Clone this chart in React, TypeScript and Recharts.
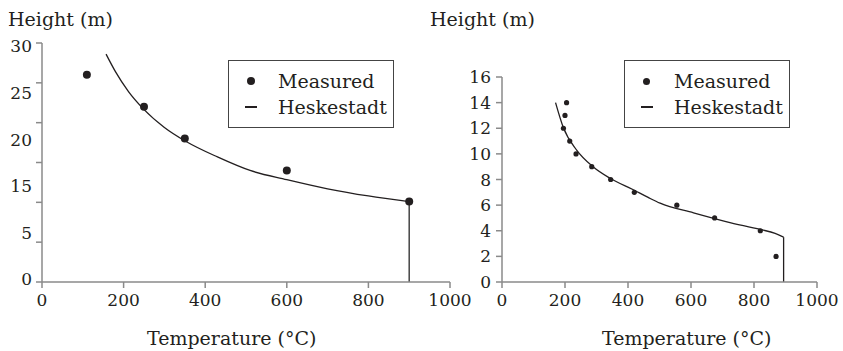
import { ComposedChart, Legend, Line, Scatter, XAxis, YAxis } from 'recharts'

const FONT = '"DejaVu Serif", serif'
const INK = '#231f20'
const AXIS = '#8a8a8a'

// left panel
const LEFT_MEASURED_T = [110, 250, 350, 600, 900]
const LEFT_MEASURED_H = [26, 22, 18, 14, 10.1]
const LEFT_MODEL_T = [157, 180, 212, 249, 300, 351, 430, 510, 600, 700, 800, 900]
const LEFT_MODEL_H = [28.6, 26.4, 23.9, 21.7, 19.4, 17.7, 15.7, 14.0, 12.85, 11.7, 10.8, 10.1]
const LEFT_DROP_T = [900, 900]
const LEFT_DROP_H = [10.1, 0]
const LEFT_X_TICKS = [0, 200, 400, 600, 800, 1000]
const LEFT_Y_MAX = 30
const LEFT_Y_MARKS = [0, 5, 10, 15, 20, 25, 30]
// the printed labels do not sit on the tick marks in the original figure
const LEFT_Y_LABELS = ['0', '5', '15', '20', '25', '30']
const LEFT_Y_LABEL_AT = [0.4, 6.2, 12.1, 17.9, 23.8, 29.6]

// right panel
const RIGHT_MEASURED_T = [205, 200, 195, 215, 235, 285, 345, 420, 555, 675, 820, 870]
const RIGHT_MEASURED_H = [14, 13, 12, 11, 10, 9, 8, 7, 6, 5, 4, 2]
const RIGHT_MODEL_T = [170, 194, 237, 289, 343, 417, 464, 502, 608, 714, 820, 867, 894]
const RIGHT_MODEL_H = [14.0, 12.1, 10.3, 9.0, 8.1, 7.2, 6.6, 6.15, 5.4, 4.7, 4.1, 3.8, 3.5]
const RIGHT_DROP_T = [894, 894]
const RIGHT_DROP_H = [3.5, 0]
const RIGHT_X_TICKS = [0, 200, 400, 600, 800, 1000]
const RIGHT_Y_TICKS = [0, 2, 4, 6, 8, 10, 12, 14, 16]

const LEGEND_ORDER = ['Measured', 'Heskestadt']

const pts = (t: number[], h: number[]) => t.map((x, i) => ({ t: x, h: h[i] }))

const tickStyle = { fill: INK, fontSize: 17, fontFamily: FONT }

// draws label i of the left axis, shifted from tick mark i to where the figure prints it
function LeftYTick(props: any) {
  const { x, y, index } = props
  const label = LEFT_Y_LABELS[index]
  if (label === undefined) return null
  const plotH = Number(props.height) || 240
  const dy = ((LEFT_Y_MARKS[index] - LEFT_Y_LABEL_AT[index]) * plotH) / LEFT_Y_MAX
  return (
    <text x={x} y={y + dy} dy="0.36em" textAnchor="end" fill={INK} fontSize={17} fontFamily={FONT}>
      {label}
    </text>
  )
}

function LegendBox({ payload, dot }: any) {
  const items = (payload || [])
    .filter((p: any) => p.type !== 'none' && LEGEND_ORDER.includes(p.value))
    .sort((a: any, b: any) => LEGEND_ORDER.indexOf(a.value) - LEGEND_ORDER.indexOf(b.value))
  return (
    <div
      style={{
        width: 166,
        height: 68,
        boxSizing: 'border-box',
        border: '1px solid #444',
        background: '#fff',
        paddingTop: 7,
        fontFamily: FONT,
        fontSize: 19,
        color: INK,
      }}
    >
      {items.map((p: any) => (
        <div key={p.value} style={{ display: 'flex', alignItems: 'center', height: 26, whiteSpace: 'nowrap' }}>
          <span style={{ width: 43, display: 'flex', justifyContent: 'center', paddingRight: 6 }}>
            {p.type === 'circle' ? (
              <span style={{ width: dot, height: dot, borderRadius: '50%', background: INK, display: 'block' }} />
            ) : (
              <span style={{ width: 12, height: 1.5, background: INK, display: 'block' }} />
            )}
          </span>
          {p.value}
        </div>
      ))}
    </div>
  )
}

function Title({ text, x, y }: { text: string; x: number; y: number }) {
  return (
    <div
      style={{
        position: 'absolute',
        left: x,
        top: y,
        fontFamily: FONT,
        fontSize: 19,
        lineHeight: '19px',
        color: INK,
        whiteSpace: 'nowrap',
      }}
    >
      {text}
    </div>
  )
}

export default function App() {
  return (
    <div style={{ position: 'absolute', left: 0, top: 0, width: 843, height: 351, background: '#fff' }}>
      <ComposedChart
        width={843}
        height={351}
        margin={{ top: 43, right: 393, bottom: 0, left: 0 }}
        style={{ position: 'absolute', left: 0, top: 0 }}
      >
        <XAxis
          dataKey="t"
          type="number"
          domain={[0, 1000]}
          ticks={LEFT_X_TICKS}
          height={69}
          stroke={AXIS}
          strokeWidth={1.5}
          tickSize={6}
          tickMargin={6}
          tick={tickStyle}
        />
        <YAxis
          type="number"
          domain={[0, LEFT_Y_MAX]}
          ticks={LEFT_Y_MARKS}
          width={42}
          stroke={AXIS}
          strokeWidth={1.5}
          tickSize={6}
          tickMargin={4}
          tick={(p: any) => <LeftYTick {...p} />}
        />
        <Line
          name="Heskestadt"
          data={pts(LEFT_MODEL_T, LEFT_MODEL_H)}
          dataKey="h"
          type="monotone"
          stroke={INK}
          strokeWidth={1.3}
          dot={false}
          legendType="line"
          isAnimationActive={false}
        />
        <Line
          name="drop"
          data={pts(LEFT_DROP_T, LEFT_DROP_H)}
          dataKey="h"
          type="linear"
          stroke="#444"
          strokeWidth={1.5}
          dot={false}
          legendType="none"
          isAnimationActive={false}
        />
        <Scatter
          name="Measured"
          data={pts(LEFT_MEASURED_T, LEFT_MEASURED_H)}
          dataKey="h"
          legendType="circle"
          fill={INK}
          shape={(p: any) => <circle cx={p.cx} cy={p.cy} r={4} fill={INK} />}
          isAnimationActive={false}
        />
        <Legend
          layout="vertical"
          align="center"
          verticalAlign="middle"
          wrapperStyle={{ left: 228, top: 60, width: 166, height: 68 }}
          content={(props: any) => <LegendBox {...props} dot={8} />}
        />
      </ComposedChart>

      <ComposedChart
        width={843}
        height={351}
        margin={{ top: 77, right: 26, bottom: 0, left: 460 }}
        style={{ position: 'absolute', left: 0, top: 0 }}
      >
        <XAxis
          dataKey="t"
          type="number"
          domain={[0, 1000]}
          ticks={RIGHT_X_TICKS}
          height={69}
          stroke={AXIS}
          strokeWidth={1.5}
          tickSize={6}
          tickMargin={6}
          tick={tickStyle}
        />
        <YAxis
          type="number"
          domain={[0, 16]}
          ticks={RIGHT_Y_TICKS}
          width={42}
          stroke={AXIS}
          strokeWidth={1.5}
          tickSize={6}
          tickMargin={5}
          tick={tickStyle}
        />
        <Line
          name="Heskestadt"
          data={pts(RIGHT_MODEL_T, RIGHT_MODEL_H)}
          dataKey="h"
          type="monotone"
          stroke={INK}
          strokeWidth={1.3}
          dot={false}
          legendType="line"
          isAnimationActive={false}
        />
        <Line
          name="drop"
          data={pts(RIGHT_DROP_T, RIGHT_DROP_H)}
          dataKey="h"
          type="linear"
          stroke={INK}
          strokeWidth={1.3}
          dot={false}
          legendType="none"
          isAnimationActive={false}
        />
        <Scatter
          name="Measured"
          data={pts(RIGHT_MEASURED_T, RIGHT_MEASURED_H)}
          dataKey="h"
          legendType="circle"
          fill={INK}
          shape={(p: any) => <circle cx={p.cx} cy={p.cy} r={2.6} fill={INK} />}
          isAnimationActive={false}
        />
        <Legend
          layout="vertical"
          align="center"
          verticalAlign="middle"
          wrapperStyle={{ left: 624, top: 60, width: 166, height: 68 }}
          content={(props: any) => <LegendBox {...props} dot={7} />}
        />
      </ComposedChart>

      <Title text="Height (m)" x={8} y={10} />
      <Title text="Height (m)" x={430} y={10} />
      <Title text="Temperature (°C)" x={147} y={329} />
      <Title text="Temperature (°C)" x={602} y={329} />
    </div>
  )
}
